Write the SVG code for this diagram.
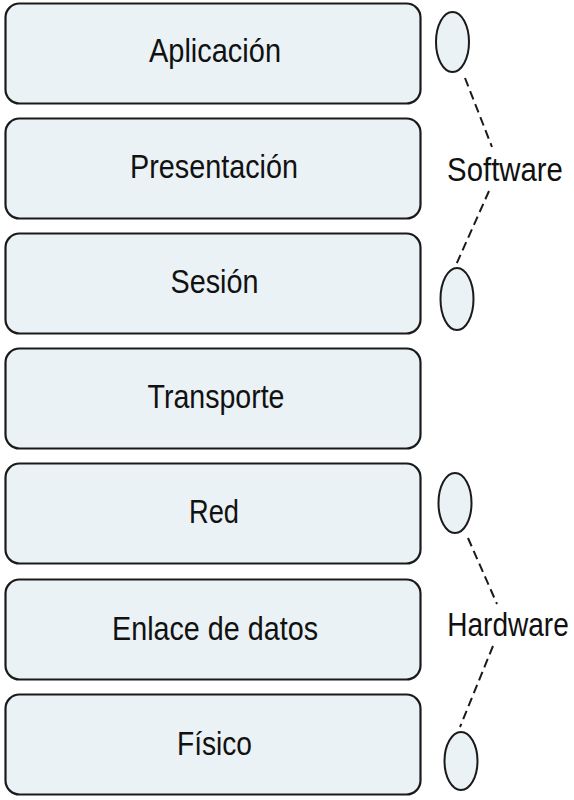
<svg xmlns="http://www.w3.org/2000/svg" width="574" height="800" viewBox="0 0 574 800">
<style>
.box{fill:#EAF2F5;stroke:#1a1a1a;stroke-width:2.2}
.oval{fill:#EAF2F5;stroke:#1a1a1a;stroke-width:2}
.lbl{font-family:"Liberation Sans",Arial,sans-serif;font-size:33px;fill:#111;text-anchor:middle}
.dash{stroke:#1a1a1a;stroke-width:2;stroke-dasharray:9 5;fill:none}
</style>
<rect width="574" height="800" fill="#ffffff"/>
<g id="aplicacion"><rect class="box" x="5.5" y="3.5" width="415" height="100" rx="14"/><text class="lbl" x="215" y="62" textLength="132" lengthAdjust="spacingAndGlyphs">Aplicación</text></g>
<g id="presentacion"><rect class="box" x="5.5" y="118.5" width="415" height="100" rx="14"/><text class="lbl" x="214" y="178" textLength="168" lengthAdjust="spacingAndGlyphs">Presentación</text></g>
<g id="sesion"><rect class="box" x="5.5" y="233.5" width="415" height="100" rx="14"/><text class="lbl" x="214.5" y="293" textLength="88" lengthAdjust="spacingAndGlyphs">Sesión</text></g>
<g id="transporte"><rect class="box" x="5.5" y="348.5" width="415" height="100" rx="14"/><text class="lbl" x="216" y="408" textLength="137" lengthAdjust="spacingAndGlyphs">Transporte</text></g>
<g id="red"><rect class="box" x="5.5" y="463.5" width="415" height="100" rx="14"/><text class="lbl" x="214" y="523" textLength="50" lengthAdjust="spacingAndGlyphs">Red</text></g>
<g id="enlace"><rect class="box" x="5.5" y="579.5" width="415" height="100" rx="14"/><text class="lbl" x="215" y="640" textLength="206" lengthAdjust="spacingAndGlyphs">Enlace de datos</text></g>
<g id="fisico"><rect class="box" x="5.5" y="694.5" width="415" height="100" rx="14"/><text class="lbl" x="214.5" y="755" textLength="75" lengthAdjust="spacingAndGlyphs">Físico</text></g>
<g id="software-top"><ellipse class="oval" cx="452.5" cy="42" rx="16.5" ry="30"/></g>
<g id="software-bottom"><ellipse class="oval" cx="457" cy="299" rx="16.5" ry="31"/></g>
<g id="hardware-top"><ellipse class="oval" cx="455" cy="503" rx="16.5" ry="30"/></g>
<g id="hardware-bottom"><ellipse class="oval" cx="461" cy="761" rx="16.5" ry="29"/></g>
<g id="software-label" transform="translate(505,181) scale(0.89,1)"><text class="lbl" x="0" y="0">Software</text></g>
<g id="hardware-label" transform="translate(508,636) scale(0.85,1)"><text class="lbl" x="0" y="0">Hardware</text></g>
<g id="connectors">
<line class="dash" x1="465" y1="78" x2="492" y2="147"/>
<line class="dash" x1="489" y1="191" x2="456" y2="265"/>
<line class="dash" x1="468" y1="538" x2="497" y2="604"/>
<line class="dash" x1="493" y1="646" x2="460" y2="727"/>
</g>
</svg>
